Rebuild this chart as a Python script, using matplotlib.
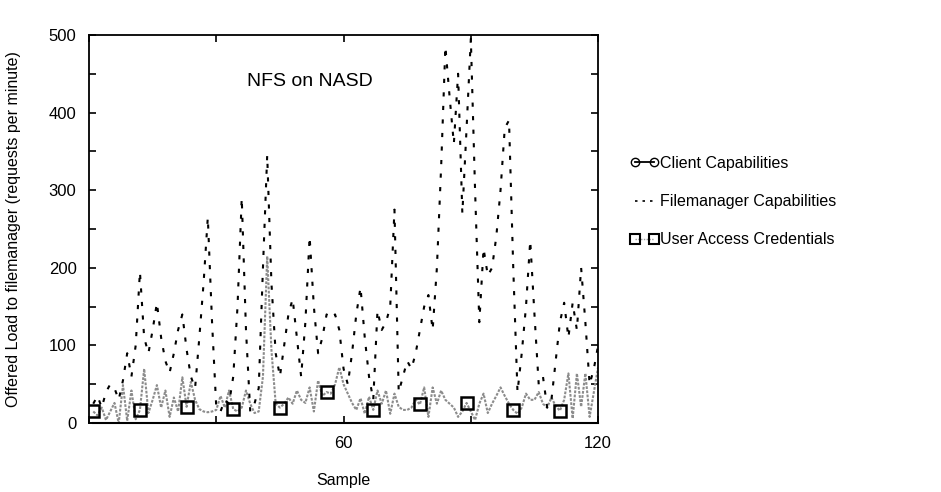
import numpy as np
import matplotlib
matplotlib.use("Agg")
import matplotlib.pyplot as plt
from matplotlib.lines import Line2D

plt.rcParams['font.family'] = ['Liberation Sans', 'DejaVu Sans']

# sample numbers
samples = np.arange(1, 121)

# Filemanager Capabilities (requests per minute)
filemanager = [25, 35, 20, 40, 50, 45, 30, 55, 90, 60,
               100, 195, 110, 90, 120, 155, 110, 80, 65, 90,
               120, 140, 95, 60, 45, 110, 180, 265, 130, 20,
               15, 30, 25, 60, 150, 290, 120, 15, 25, 45,
               200, 345, 180, 90, 60, 100, 140, 160, 110, 60,
               130, 240, 150, 90, 110, 140, 135, 140, 120, 70,
               50, 90, 140, 175, 110, 60, 30, 145, 120, 130,
               150, 275, 40, 60, 80, 70, 90, 120, 150, 165,
               120, 200, 330, 485, 420, 360, 450, 270, 380, 495,
               300, 130, 225, 190, 200, 240, 300, 380, 390, 200,
               40, 90, 150, 235, 140, 50, 60, 20, 30, 80,
               130, 155, 110, 155, 120, 200, 130, 50, 70, 100]

# User Access Credentials
user_access = [15, 10, 20, 4, 15, 26, 0, 49, 3, 42,
               5, 17, 70, 13, 30, 49, 20, 42, 8, 33,
               15, 59, 21, 53, 30, 18, 15, 14, 15, 17,
               35, 20, 42, 18, 15, 20, 42, 25, 13, 15,
               60, 215, 94, 25, 20, 25, 33, 25, 42, 30,
               26, 46, 15, 55, 35, 40, 38, 50, 72, 50,
               38, 26, 17, 32, 12, 34, 17, 42, 25, 42,
               12, 38, 21, 17, 17, 20, 30, 24, 46, 8,
               46, 25, 42, 30, 25, 20, 8, 15, 26, 15,
               4, 25, 38, 13, 25, 35, 46, 35, 25, 17,
               12, 20, 38, 30, 30, 40, 25, 20, 33, 22,
               16, 30, 64, 6, 64, 21, 64, 8, 40, 72]

# Client Capabilities (stays at zero, on the bottom frame)
client = [0, 0, 0, 0, 0, 0, 0, 0, 0, 0, 0, 0, 0, 0, 0, 0, 0, 0, 0, 0,
          0, 0, 0, 0, 0, 0, 0, 0, 0, 0, 0, 0, 0, 0, 0, 0, 0, 0, 0, 0,
          0, 0, 0, 0, 0, 0, 0, 0, 0, 0, 0, 0, 0, 0, 0, 0, 0, 0, 0, 0,
          0, 0, 0, 0, 0, 0, 0, 0, 0, 0, 0, 0, 0, 0, 0, 0, 0, 0, 0, 0,
          0, 0, 0, 0, 0, 0, 0, 0, 0, 0, 0, 0, 0, 0, 0, 0, 0, 0, 0, 0,
          0, 0, 0, 0, 0, 0, 0, 0, 0, 0, 0, 0, 0, 0, 0, 0, 0, 0, 0, 0]

labels = ["Client Capabilities", "Filemanager Capabilities", "User Access Credentials"]

fig = plt.figure(figsize=(9.41, 4.92), dpi=100)
ax = fig.add_axes([0.0946, 0.140, 0.541, 0.789])

ax.plot(samples, user_access, color="#8c8c8c", lw=1.5, ls=(0, (1.3, 0.7)), zorder=2)
ax.plot(samples, user_access, ls="none", marker="s", ms=8, mfc="none",
        mec="black", mew=1.8, markevery=11, zorder=4)
ax.plot(samples, filemanager, color="black", lw=1.5, ls=(0, (2, 4.5)), zorder=3)
ax.plot(samples, client, color="black", lw=1.5, zorder=5, clip_on=False)

ax.text(52, 440, "NFS on NASD", fontsize=14, ha="center", va="center")

ax.set_xlim(0, 120)
ax.set_ylim(0, 500)
ax.set_xticks([0, 30, 60, 90, 120])
ax.set_xticklabels(["", "", "60", "", "120"])
ax.set_yticks(np.arange(0, 501, 50))
ax.set_yticklabels(["0", "", "100", "", "200", "", "300", "", "400", "", "500"])
ax.tick_params(direction="in", top=True, right=True, length=5, width=1.2,
               labelsize=12, pad=9)
for s in ax.spines.values():
    s.set_linewidth(1.3)

ax.set_xlabel("Sample", fontsize=11.5, labelpad=16)
ax.set_ylabel("Offered Load to filemanager (requests per minute)", fontsize=11.5,
              labelpad=20)

handles = [
    Line2D([], [], color="black", lw=1.3, marker="o", ms=6, mfc="none", mew=1.0),
    Line2D([], [], color="black", lw=1.2, ls=(0, (1.5, 3))),
    Line2D([], [], color="#9a9a9a", lw=1.0, ls=(0, (1, 1)), marker="s", ms=7,
           mfc="none", mec="black", mew=1.5),
]
fig.legend(handles, labels, loc="center left", bbox_to_anchor=(0.654, 0.59),
           frameon=False, fontsize=11.5, numpoints=2, handlelength=1.8,
           handletextpad=0.1, labelspacing=1.45)

fig.savefig("out.png", dpi=100)
